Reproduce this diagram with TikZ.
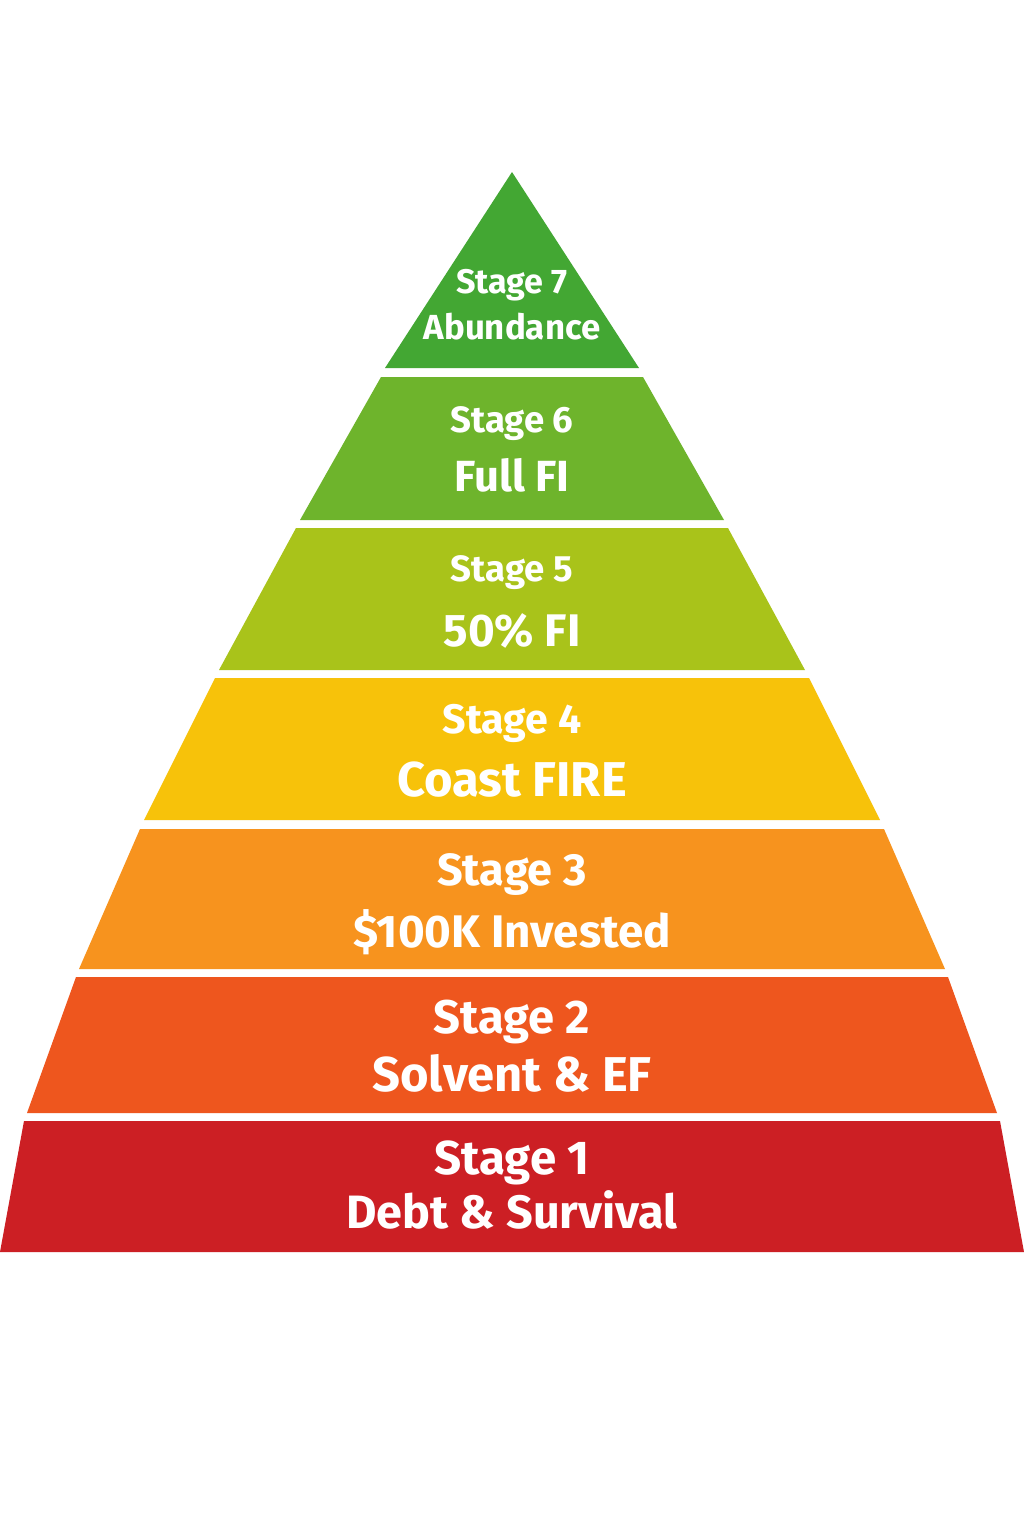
\documentclass[tikz,border=0pt]{standalone}
\usepackage{fontspec}
\setmainfont{Fira Sans}
\usetikzlibrary{positioning}
\definecolor{livello7}{HTML}{43A733}
\definecolor{livello6}{HTML}{6EB42C}
\definecolor{livello5}{HTML}{A9C31A}
\definecolor{livello4}{HTML}{F7C20A}
\definecolor{livello3}{HTML}{F7931E}
\definecolor{livello2}{HTML}{EE561E}
\definecolor{livello1}{HTML}{CC1F24}
\newcommand{\corpo}[1]{\fontsize{#1}{#1}\selectfont}

\begin{document}
\begin{tikzpicture}[
  x=0.01cm, y=-0.01cm,
  testo/.style={text=white, font=\bfseries, inner sep=0pt, anchor=base}
]
\useasboundingbox[fill=white] (0,0) rectangle (1024,1536);

% ---- strati della piramide (y in pixel, verso il basso)
\foreach \n/\yt/\yb/\xt/\xb in {7/172/368/512/385, 6/377/520/381/300,
  5/528/670/296/219, 4/678/820/215/144, 3/829/969/140/79,
  2/977/1113/76/27, 1/1121/1252/24/0} {
  \fill[livello\n] (\xt,\yt) -- (1024-\xt,\yt) -- (1024-\xb,\yb) -- (\xb,\yb) -- cycle;
}

% ---- etichette
\node[testo, font=\bfseries\corpo{9.7}] (fase7) at (512,293) {Stage 7};
\node[testo, font=\bfseries\corpo{9.9}] (nome7) at (512,339) {Abundance};

\node[testo, font=\bfseries\corpo{10.4}] (fase6) at (512,432) {Stage 6};
\node[testo, font=\bfseries\corpo{12.4}] (nome6) at (512,491) {Full FI};

\node[testo, font=\bfseries\corpo{10.4}] (fase5) at (512,581) {Stage 5};
\node[testo, font=\bfseries\corpo{13.0}] (nome5) at (512,646) {50\% FI};

\node[testo, font=\bfseries\corpo{11.7}] (fase4) at (512,733) {Stage 4};
\node[testo, font=\bfseries\corpo{13.9}] (nome4) at (512,796) {Coast FIRE};

\node[testo, font=\bfseries\corpo{12.8}] (fase3) at (512,885) {Stage 3};
\node[testo, font=\bfseries\corpo{13.0}] (nome3) at (512,947) {\$100K Invested};

\node[testo, font=\bfseries\corpo{13.4}] (fase2) at (512,1033) {Stage 2};
\node[testo, font=\bfseries\corpo{13.9}] (nome2) at (512,1091) {Solvent \& EF};

\node[testo, font=\bfseries\corpo{13.5}] (fase1) at (512,1174) {Stage 1};
\node[testo, font=\bfseries\corpo{13.3}] (nome1) at (512,1228) {Debt \& Survival};

\end{tikzpicture}
\end{document}
